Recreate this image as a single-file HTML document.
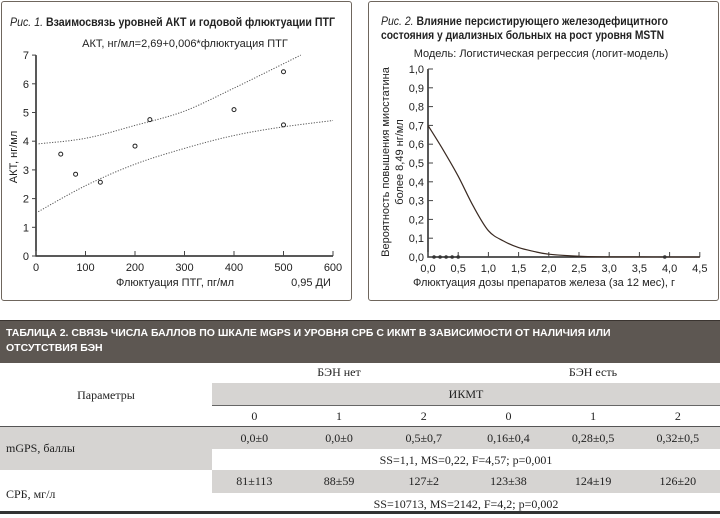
<!DOCTYPE html>
<html><head><meta charset="utf-8">
<style>
body{margin:0;width:720px;height:518px;background:#fff;font-family:"Liberation Sans",sans-serif;position:relative;overflow:hidden}
.panel{position:absolute;border:1.5px solid #6f665d;border-radius:3px;top:1px;height:298px}
svg text{font-family:"Liberation Sans",sans-serif;fill:#222}
.tbl{position:absolute;left:0;top:320px;width:720px;height:195px}
.t{position:absolute;font-family:"Liberation Serif",serif;font-size:12px;color:#222;text-align:center}
</style></head><body>
<div class="panel" style="left:1px;width:349px"></div>
<div class="panel" style="left:368px;width:349px"></div>
<svg id="svg" width="720" height="310" style="position:absolute;left:0;top:0">
<text x="10" y="26" font-size="12" textLength="325" lengthAdjust="spacingAndGlyphs"><tspan font-style="italic">Рис. 1.</tspan><tspan font-weight="bold"> Взаимосвязь уровней АКТ и годовой флюктуации ПТГ</tspan></text>
<text x="185" y="47" font-size="11" text-anchor="middle">АКТ, нг/мл=2,69+0,006*флюктуация ПТГ</text>
<text transform="translate(17,157) rotate(-90)" font-size="11" text-anchor="middle">АКТ, нг/мл</text>
<text x="175" y="286" font-size="11" text-anchor="middle">Флюктуация ПТГ, пг/мл</text>
<text x="311" y="286" font-size="11" text-anchor="middle">0,95 ДИ</text>
<text x="381" y="25" font-size="12" textLength="287" lengthAdjust="spacingAndGlyphs"><tspan font-style="italic">Рис. 2.</tspan><tspan font-weight="bold"> Влияние персистирующего железодефицитного</tspan></text>
<text x="381" y="39" font-size="12" font-weight="bold" textLength="283" lengthAdjust="spacingAndGlyphs">состояния у диализных больных на рост уровня MSTN</text>
<text x="541" y="57" font-size="11" text-anchor="middle">Модель: Логистическая регрессия (логит-модель)</text>
<text transform="translate(389,162) rotate(-90)" font-size="11" text-anchor="middle">Вероятность повышения миостатина</text>
<text transform="translate(403,162) rotate(-90)" font-size="11" text-anchor="middle">более 8,49 нг/мл</text>
<text x="544" y="286" font-size="11" text-anchor="middle">Флюктуация дозы препаратов железа (за 12 мес), г</text>
</svg>
<div class="tbl">
 <div style="position:absolute;left:0;top:0;width:720px;height:42px;background:#5d5752;border-top:1px solid #3a3430"></div>
 <div style="position:absolute;left:6px;top:6px;color:#fff;font-size:10.5px;font-weight:bold;line-height:15px">ТАБЛИЦА 2. СВЯЗЬ ЧИСЛА БАЛЛОВ ПО ШКАЛЕ MGPS И УРОВНЯ СРБ С ИКМТ В ЗАВИСИМОСТИ ОТ НАЛИЧИЯ ИЛИ<br>ОТСУТСТВИЯ БЭН</div>
 <div style="position:absolute;left:212px;top:63px;width:508px;height:22px;background:#d6d4d2;border-bottom:1px solid #666"></div>
 <div style="position:absolute;left:0;top:106px;width:720px;height:1.5px;background:#555"></div>
 <div style="position:absolute;left:0;top:107px;width:720px;height:43px;background:#d6d4d2"></div>
 <div style="position:absolute;left:212px;top:129px;width:508px;height:21px;background:#fff"></div>
 <div style="position:absolute;left:212px;top:150px;width:508px;height:23px;background:#d6d4d2"></div>
 <div style="position:absolute;left:0;top:191px;width:720px;height:3px;background:#333"></div>
 <div class="t" style="left:0;width:212px;top:68px">Параметры</div>
 <div class="t" style="left:212px;width:254px;top:45px">БЭН нет</div>
 <div class="t" style="left:466px;width:254px;top:45px">БЭН есть</div>
 <div class="t" style="left:212px;width:508px;top:67px">ИКМТ</div>
 <div id="cols"></div>
 <div class="t" style="left:6px;top:121px;text-align:left">mGPS, баллы</div>
 <div class="t" style="left:6px;top:167px;text-align:left">СРБ, мг/л</div>
 <div class="t" style="left:212px;width:508px;top:133px">SS=1,1, MS=0,22, F=4,57; p=0,001</div>
 <div class="t" style="left:212px;width:508px;top:177px">SS=10713, MS=2142, F=4,2; p=0,002</div>
</div>
<script>
// Figure 1 data
const ptgX=[50,80,130,200,230,400,500,500];
const aktY=[3.55,2.85,2.57,3.83,4.75,5.1,6.42,4.57];
const ciX=[0,100,200,300,400,500,535];
const ciUpper=[3.9,4.1,4.55,5.05,5.85,6.7,7.0];
const ciLowX=[0,100,200,300,400,500,600];
const ciLower=[1.5,2.45,3.2,3.75,4.2,4.5,4.72];
const xTicks1=[0,100,200,300,400,500,600];
const yTicks1=[0,1,2,3,4,5,6,7];
// Figure 2 data
const doseX=[0,0.25,0.5,0.75,1,1.25,1.5,1.75,2,2.5,3,4.5];
const probY=[0.70,0.57,0.43,0.27,0.14,0.085,0.05,0.03,0.015,0.004,0.001,0];
const obsX=[0.1,0.2,0.3,0.4,0.5,3.92];
const obsY=[0,0,0,0,0,0];
const xTicks2=[0,0.5,1,1.5,2,2.5,3,3.5,4,4.5];
const yTicks2=[0,0.1,0.2,0.3,0.4,0.5,0.6,0.7,0.8,0.9,1.0];
// Table data
const colLabels=["0","1","2","0","1","2"];
const mgpsVals=["0,0±0","0,0±0","0,5±0,7","0,16±0,4","0,28±0,5","0,32±0,5"];
const crpVals=["81±113","88±59","127±2","123±38","124±19","126±20"];

const NS="http://www.w3.org/2000/svg";
const svg=document.getElementById('svg');
function el(tag,attrs){const e=document.createElementNS(NS,tag);for(const k in attrs)e.setAttribute(k,attrs[k]);svg.appendChild(e);return e;}

// Chart 1 axes
const x1=v=>36+v*0.495, y1=v=>256-v*28.7;
let a=el('path',{d:`M${x1(0)},${y1(7)}V${y1(0)}H${x1(600)}`,stroke:'#222','stroke-width':1.5,fill:'none'});

xTicks1.forEach(v=>{
 const t=el('line',{x1:x1(v),x2:x1(v),y1:y1(0),y2:y1(0)-5,stroke:'#444'});
 
 const l=el('text',{x:x1(v),y:271,'font-size':11,'text-anchor':'middle'});l.textContent=v;
 
});
yTicks1.forEach(v=>{
 const t=el('line',{x1:x1(0),x2:x1(0)-4,y1:y1(v),y2:y1(v),stroke:'#444'});
 
 const l=el('text',{x:x1(0)-7,y:y1(v)+4,'font-size':11,'text-anchor':'end'});l.textContent=v;
 
});
function smooth(xs,ys,fx,fy){
 const P=xs.map((x,i)=>[fx(x),fy(ys[i])]);
 let d='M'+P[0][0].toFixed(1)+','+P[0][1].toFixed(1);
 for(let i=0;i<P.length-1;i++){
  const p0=P[Math.max(0,i-1)],p1=P[i],p2=P[i+1],p3=P[Math.min(P.length-1,i+2)];
  const c1=[p1[0]+(p2[0]-p0[0])/6,p1[1]+(p2[1]-p0[1])/6];
  const c2=[p2[0]-(p3[0]-p1[0])/6,p2[1]-(p3[1]-p1[1])/6];
  d+=`C${c1[0].toFixed(1)},${c1[1].toFixed(1)} ${c2[0].toFixed(1)},${c2[1].toFixed(1)} ${p2[0].toFixed(1)},${p2[1].toFixed(1)}`;
 }
 return d;}
let u=el('path',{d:smooth(ciX,ciUpper,x1,y1),stroke:'#555','stroke-dasharray':'1.2,1.5',fill:'none'});

let lo=el('path',{d:smooth(ciLowX,ciLower,x1,y1),stroke:'#555','stroke-dasharray':'1.2,1.5',fill:'none'});

ptgX.forEach((v,i)=>{
 const c=el('circle',{cx:x1(v),cy:y1(aktY[i]),r:2,fill:'#fff',stroke:'#222','stroke-width':1});
 
});

// Chart 2
const x2=v=>428+v*60.4, y2=v=>257-v*188;
let b=el('path',{d:`M${x2(0)},${y2(1)}V${y2(0)}H${x2(4.5)}`,stroke:'#222','stroke-width':1.5,fill:'none'});

xTicks2.forEach(v=>{
 const t=el('line',{x1:x2(v),x2:x2(v),y1:y2(0),y2:y2(0)-5,stroke:'#444'});
 
 const l=el('text',{x:x2(v),y:272,'font-size':11,'text-anchor':'middle'});l.textContent=v.toFixed(1).replace('.',',');
 
});
yTicks2.forEach(v=>{
 const t=el('line',{x1:x2(0),x2:x2(0)+5,y1:y2(v),y2:y2(v),stroke:'#444'});
 
 const l=el('text',{x:x2(0)-4,y:y2(v)+4,'font-size':11,'text-anchor':'end'});l.textContent=v.toFixed(1).replace('.',',');
 
});
let cv=el('path',{d:smooth(doseX,probY,x2,y2),stroke:'#3a2a22','stroke-width':1.2,fill:'none'});

obsX.forEach((v,i)=>{
 const c=el('circle',{cx:x2(v),cy:y2(obsY[i]),r:1.8,fill:'#333'});
 
});

// Table cells
const cols=document.getElementById('cols');
function cell(txt,ci,top,name){const d=document.createElement('div');d.className='t';d.style.left=(212+ci*84.7)+'px';d.style.width='84.7px';d.style.top=top+'px';d.textContent=txt;
 
 
 cols.appendChild(d);}
colLabels.forEach((v,i)=>cell(v,i,89,'ikmt-col-label'));
mgpsVals.forEach((v,i)=>cell(v,i,111,'mgps-value'));
crpVals.forEach((v,i)=>cell(v,i,154,'crp-value'));
</script>
</body></html>
